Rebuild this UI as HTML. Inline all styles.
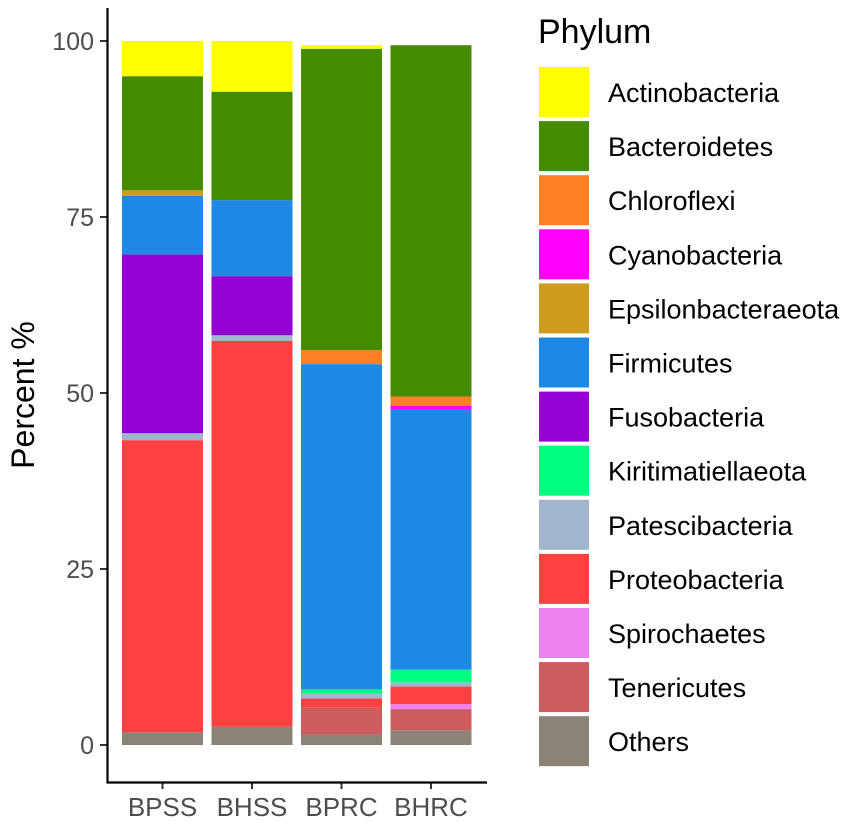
<!DOCTYPE html>
<html><head><meta charset="utf-8"><style>
body{margin:0;background:#fff}
svg{display:block;font-family:"Liberation Sans",Arial,sans-serif}
</style></head><body>
<svg id="chart" width="851" height="823" viewBox="0 0 851 823" xmlns="http://www.w3.org/2000/svg">
<g id="plot"></g>
<g id="legend"></g>
</svg>
<script>
const samples = ["BPSS","BHSS","BPRC","BHRC"];
const phyla = ["Actinobacteria","Bacteroidetes","Chloroflexi","Cyanobacteria","Epsilonbacteraeota","Firmicutes","Fusobacteria","Kiritimatiellaeota","Patescibacteria","Proteobacteria","Spirochaetes","Tenericutes","Others"];
const colors = ["#ffff00","#458b00","#ff7f24","#ff00ff","#cd9b1d","#1e88e5","#9400d3","#00ff7f","#9fb6cd","#ff4040","#ee82ee","#cd5c5c","#8b8378"];
// percentages per sample, in phyla order
const valBPSS = [5.0,16.2,0,0,0.8,8.3,25.4,0,1.0,41.5,0,0,1.8];
const valBHSS = [7.2,15.4,0,0,0,10.8,8.4,0,0.8,54.8,0,0,2.6];
const valBPRC = [0.5,42.8,2.0,0,0,46.2,0,0.6,0.7,1.3,0,3.8,1.5];
const valBHRC = [0,49.9,1.3,0.6,0,36.9,0,1.8,0.6,2.5,0.7,3.0,2.1];
const values = [valBPSS,valBHSS,valBPRC,valBHRC];
const yTicks = [0,25,50,75,100];

const NS="http://www.w3.org/2000/svg";
const plot=document.getElementById('plot'), legend=document.getElementById('legend');
function mk(tag,attrs,parent,txt){const e=document.createElementNS(NS,tag);for(const k in attrs)e.setAttribute(k,attrs[k]);if(txt!==undefined)e.textContent=txt;parent.appendChild(e);return e;}
const y0=745, pxPer=7.04;
const yS=v=>y0-v*pxPer;
const xLeft=122, band=89.5, bw=81;
const xS=i=>xLeft+i*band;

values.forEach((vals,i)=>{
  let cum=0;
  for(let k=phyla.length-1;k>=0;k--){
    const v=vals[k]; if(v<=0) continue;
    const r=mk('rect',{x:xS(i),y:yS(cum+v),width:bw,height:v*pxPer,fill:colors[k]},plot);
    
    
    cum+=v;
  }
  const t=mk('text',{x:xS(i)+bw/2,y:816,'text-anchor':'middle','font-size':26,fill:'#4d4d4d'},plot,samples[i]);
  
  
  const tk=mk('line',{x1:xS(i)+bw/2,x2:xS(i)+bw/2,y1:782,y2:789,stroke:'#333','stroke-width':2},plot);
  
  
});
yTicks.forEach(v=>{
  const t=mk('text',{x:94,y:yS(v)+9,'text-anchor':'end','font-size':25,fill:'#4d4d4d'},plot,v);
  
  
  const tk=mk('line',{x1:100,x2:107,y1:yS(v),y2:yS(v),stroke:'#333','stroke-width':2},plot);
  
  
});
const ax=mk('path',{d:'M107.5 8 V782.5 H487',fill:'none',stroke:'#000','stroke-width':2.2},plot);


const yt=mk('text',{x:0,y:0,transform:'translate(34,395) rotate(-90)','text-anchor':'middle','font-size':32,fill:'#000'},plot,'Percent %');



const lt=mk('text',{x:538,y:43,'font-size':34,fill:'#000'},legend,'Phylum');


phyla.forEach((p,k)=>{
  const top=67+k*54.1;
  const r=mk('rect',{x:539,y:top,width:50,height:50,fill:colors[k]},legend);
  
  
  const t=mk('text',{x:608,y:top+35,'font-size':27,fill:'#000'},legend,p);
  
  
});
</script>
</body></html>
